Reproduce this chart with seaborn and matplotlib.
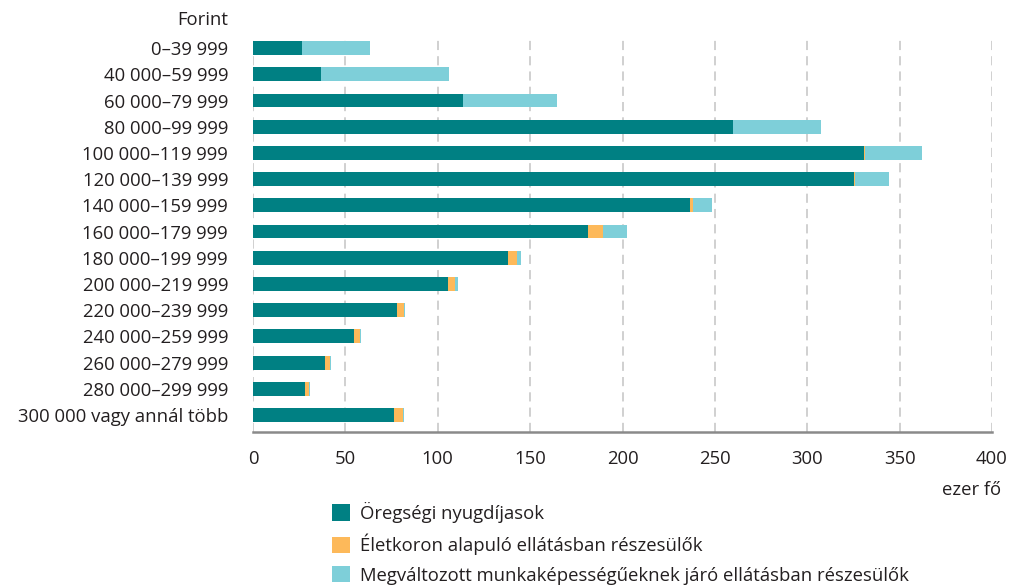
import matplotlib
matplotlib.use("Agg")
import matplotlib.pyplot as plt
from matplotlib.patches import Patch
import numpy as np
import pandas as pd
import seaborn as sns

# Income bands (HUF) and recipients in thousands
bands = [
    "0–39 999", "40 000–59 999", "60 000–79 999", "80 000–99 999",
    "100 000–119 999", "120 000–139 999", "140 000–159 999",
    "160 000–179 999", "180 000–199 999", "200 000–219 999",
    "220 000–239 999", "240 000–259 999", "260 000–279 999",
    "280 000–299 999", "300 000 vagy annál több",
]
old_age = [26.7, 37.0, 113.5, 260.0, 330.7, 325.5, 236.5, 181.1, 138.2, 105.4, 77.9, 54.9, 39.2, 28.1, 76.2]
age_based = [0.0, 0.0, 0.0, 0.0, 0.6, 0.6, 1.8, 8.2, 4.5, 4.1, 3.7, 3.0, 2.5, 2.4, 5.2]
changed_capacity = [36.6, 69.3, 51.2, 47.6, 30.8, 18.0, 10.1, 13.1, 2.4, 1.3, 0.5, 0.4, 0.3, 0.5, 0.5]

series_names = [
    "Öregségi nyugdíjasok",
    "Életkoron alapuló ellátásban részesülők",
    "Megváltozott munkaképességűeknek járó ellátásban részesülők",
]
colors = ["#008083", "#FDB95A", "#7ECFD9"]
xticks = [0, 50, 100, 150, 200, 250, 300, 350, 400]

df = pd.DataFrame({
    "band": bands,
    "s1": old_age,
    "s2": age_based,
    "s3": changed_capacity,
})
df["c1"] = df["s1"]
df["c2"] = df["s1"] + df["s2"]
df["c3"] = df["c2"] + df["s3"]

sns.set_theme(style="white")
plt.rcParams["font.family"] = ["Open Sans", "DejaVu Sans"]
text_color = "#231F20"
fs = 13.3

W, H = 1013, 587
fig = plt.figure(figsize=(W / 100, H / 100), dpi=100)
ax = fig.add_axes([253 / W, 1 - 432 / H, (992 - 253) / W, (432 - 35) / H])

# Stacked bars: draw cumulative totals from the outermost segment inwards
for col, color in zip(["c3", "c2", "c1"], colors[::-1]):
    sns.barplot(data=df, y="band", x=col, color=color, orient="h",
                width=0.53, saturation=1, edgecolor="none", ax=ax, zorder=3)

ax.set_xlim(0, 400)
ax.set_ylim(14.65, -0.5)
ax.set_xticks(xticks)
ax.set_xticklabels([str(t) for t in xticks])
ax.set_xlabel("")
ax.set_ylabel("")

for x in xticks:
    ax.axvline(x, color="#c4c4c4", lw=1.1, dashes=(6, 4), zorder=1)

for s in ["top", "right", "left"]:
    ax.spines[s].set_visible(False)
ax.spines["bottom"].set_color("#8a8a8a")
ax.spines["bottom"].set_linewidth(1.8)
ax.spines["bottom"].set_zorder(4)

ax.tick_params(axis="x", direction="out", length=7, width=1.6, color="#8a8a8a",
               pad=6, labelsize=fs, labelcolor=text_color)
ax.tick_params(axis="y", length=0, pad=18, labelsize=fs, labelcolor=text_color)

fig.text(228 / W, 1 - 20 / H, "Forint", ha="right", va="center",
         fontsize=fs, color=text_color)
fig.text(1001 / W, 1 - 490 / H, "ezer fő", ha="right", va="center",
         fontsize=fs, color=text_color)

handles = [Patch(facecolor=c, edgecolor="none") for c in colors]
fig.legend(handles, series_names, loc="upper left",
           bbox_to_anchor=(332 / W, 1 - 502 / H), frameon=False,
           fontsize=fs, labelcolor=text_color, handlelength=1.0,
           handleheight=1.0, handletextpad=0.5, labelspacing=0.58,
           borderpad=0, borderaxespad=0)

fig.savefig("out.png", dpi=100)
